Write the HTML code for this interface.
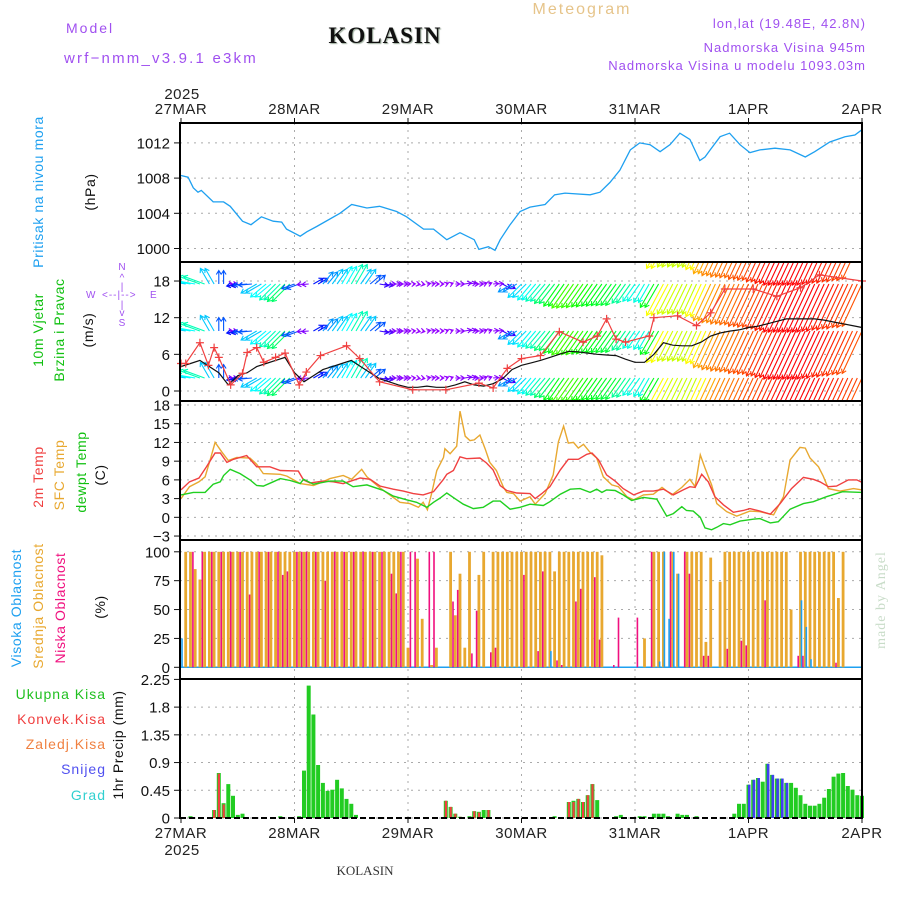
<!DOCTYPE html>
<html><head><meta charset="utf-8"><title>Meteogram KOLASIN</title>
<style>
html,body{margin:0;padding:0;background:#fff;}
svg{display:block;font-family:"Liberation Sans",sans-serif;}
.tk{font-size:15px;fill:#111;text-anchor:end;}
.dl{font-size:15px;fill:#222;text-anchor:middle;letter-spacing:0.5px;}
.lab{font-size:14px;text-anchor:middle;letter-spacing:0.6px;}
</style></head>
<body>
<svg id="chart" width="900" height="900" viewBox="0 0 900 900" xmlns="http://www.w3.org/2000/svg">
<defs><clipPath id="wclip"><rect x="181" y="263" width="681" height="137"/></clipPath></defs>
<text x="66" y="33" style="font-size:14px;fill:#a050f0;letter-spacing:2px">Model</text>
<text x="64" y="63" style="font-size:15px;fill:#a050f0;letter-spacing:2.2px">wrf−nmm_v3.9.1 e3km</text>
<text x="385" y="43" text-anchor="middle" style="font-family:'Liberation Serif',serif;font-weight:bold;font-size:23px;fill:#111;letter-spacing:1px;text-shadow:1px 1px 1px #9a9">KOLASIN</text>
<text x="582" y="14" text-anchor="middle" style="font-size:16px;fill:#e6c48a;letter-spacing:2px">Meteogram</text>
<text x="866" y="28" text-anchor="end" style="font-size:13px;fill:#a050f0;letter-spacing:1px">lon,lat (19.48E, 42.8N)</text>
<text x="866" y="52" text-anchor="end" style="font-size:13px;fill:#a050f0;letter-spacing:1px">Nadmorska Visina 945m</text>
<text x="866" y="70" text-anchor="end" style="font-size:13px;fill:#a050f0;letter-spacing:1px">Nadmorska Visina u modelu 1093.03m</text>
<text x="182" y="99" class="dl">2025</text>
<text x="182" y="855" class="dl">2025</text>
<text x="365" y="875" text-anchor="middle" style="font-family:'Liberation Serif',serif;font-size:13px;fill:#333">KOLASIN</text>
<text transform="translate(885,600) rotate(-90)" text-anchor="middle" style="font-family:'Liberation Serif',serif;font-size:14px;fill:#c8dcc8;letter-spacing:1px">made by Angel</text>

<text class="lab" transform="translate(43,192) rotate(-90)" style="fill:#1ea0f0">Pritisak na nivou mora</text>
<text class="lab" transform="translate(95,192) rotate(-90)" style="fill:#111">(hPa)</text>
<text class="lab" transform="translate(43,330) rotate(-90)" style="fill:#10c010">10m Vjetar</text>
<text class="lab" transform="translate(64,330) rotate(-90)" style="fill:#10c010">Brzina i Pravac</text>
<text class="lab" transform="translate(93,330) rotate(-90)" style="fill:#111">(m/s)</text>
<g style="font-size:10px;fill:#a050f0">
<text x="122" y="270" text-anchor="middle">N</text>
<text x="122" y="281" text-anchor="middle">^</text>
<text x="122" y="290" text-anchor="middle">|</text>
<text x="86" y="298">W</text>
<text x="102" y="298" style="letter-spacing:1px">&lt;--|--&gt;</text>
<text x="150" y="298">E</text>
<text x="122" y="308" text-anchor="middle">|</text>
<text x="122" y="316" text-anchor="middle">v</text>
<text x="122" y="326" text-anchor="middle">S</text>
</g>
<text class="lab" transform="translate(43,477) rotate(-90)" style="fill:#f04040">2m Temp</text>
<text class="lab" transform="translate(64,475) rotate(-90)" style="fill:#e8a830">SFC Temp</text>
<text class="lab" transform="translate(86,472) rotate(-90)" style="fill:#10c010">dewpt Temp</text>
<text class="lab" transform="translate(105,475) rotate(-90)" style="fill:#111">(C)</text>
<text class="lab" transform="translate(21,608) rotate(-90)" style="fill:#1ea0f0">Visoka Oblacnost</text>
<text class="lab" transform="translate(43,606) rotate(-90)" style="fill:#e8a830">Srednja Oblacnost</text>
<text class="lab" transform="translate(65,608) rotate(-90)" style="fill:#f0107f">Niska Oblacnost</text>
<text class="lab" transform="translate(105,607) rotate(-90)" style="fill:#111">(%)</text>
<g style="font-size:14px;text-anchor:end;letter-spacing:1px">
<text x="106" y="699" style="fill:#20c020">Ukupna Kisa</text>
<text x="106" y="724" style="fill:#f04040">Konvek.Kisa</text>
<text x="106" y="749" style="fill:#f08040">Zaledj.Kisa</text>
<text x="106" y="774" style="fill:#5050f0">Snijeg</text>
<text x="106" y="800" style="fill:#30d0d0">Grad</text>
</g>
<text class="lab" transform="translate(123,745) rotate(-90)" style="fill:#111">1hr Precip (mm)</text>
<g id="plot"></g>
</svg>
<script>
// ---------- data ----------
const dayLabels = ["27MAR","28MAR","29MAR","30MAR","31MAR","1APR","2APR"];
const presTicks = [1000,1004,1008,1012];
const windTicks = [0,6,12,18];
const tempTicks = [-3,0,3,6,9,12,15,18];
const cloudTicks = [0,25,50,75,100];
const precipTicks = ["0","0.45","0.9","1.35","1.8","2.25"];

const presH = [0,1.5,2.6,3.6,4.3,6.8,9,10.4,13,14.8,17,19.5,21.3,22.3,25.2,26.6,28.7,33.6,36.1,39.3,42,45.6,47.7,51.3,53.4,56.2,59,62,63,65,66.4,67.5,69.6,71.7,73.8,77,79,81.2,86.5,88.6,90.7,92.8,95,97,99.2,101.3,103.4,105.5,107.6,109.7,110.8,111.9,114,116,118.2,120.3,122.4,125.6,128.8,132,134,137.2,140.4,142.5,144];
const pres = [1008.3,1008.1,1006.9,1006.4,1006.6,1005.3,1005.3,1004.8,1003.1,1002.7,1003.6,1003.1,1003,1002.2,1001.4,1001.9,1002.5,1004,1005,1004.6,1004.8,1004.2,1003.6,1002.2,1002.2,1001,1001.8,1001,999.9,1000.2,999.8,1001,1002.7,1004.2,1004.7,1005,1006.1,1006.3,1006.1,1006.4,1007.5,1008.9,1011.2,1012,1011.8,1011,1011.8,1013.1,1012.4,1010,1010.4,1011.2,1012.7,1013.1,1011.8,1010.9,1011.2,1011.4,1011.2,1010.4,1011,1012.1,1012.7,1012.9,1013.5];

const windSpd = [4,4.5,5,4,3,1,2.5,3,4,4.5,5,5.5,3,1.5,2.5,3.5,4,4.5,5,4,3,2,1.5,1,0.6,0.6,0.8,0.6,0.6,1,1.5,1,0.8,1.2,2,3.5,4.2,4.6,5,5.5,6,6.5,6.4,6.2,6,5.9,5.8,5.2,4.7,4.7,6,7.9,7.5,7.4,7.4,8,9,9.5,9.8,10,10.4,10.6,11,11.4,11.8,11.8,11.8,11.8,11.6,11.3,11,10.7,10.4];
const windDir = [100,100,110,150,180,270,80,85,60,50,45,45,70,85,240,220,215,210,210,215,230,280,270,270,265,280,260,270,250,270,260,270,250,265,300,60,45,40,40,38,35,35,35,35,35,35,35,35,35,30,30,28,27,26,25,25,25,25,25,25,25,25,25,25,25,25,25,25,25,25,25,25,25];
const gustH = [0,1,4,5.8,7,8,10.5,13,14,16,17.5,20,22,25,26.5,29.5,35,37.8,42,49,56,63,66,69,72,76,80,85,88,90,92,94,99,100,105,109,112,115,121,126,131,135,144];
const gust = [4.5,4.5,7.9,4.2,7.1,5.5,1,2.9,6.3,7.1,4.7,5.5,6.2,1,3.1,5.8,7.4,5.3,1.5,0.2,0.2,1.3,0.5,3.7,5.3,5.8,9.7,8,9,11.8,8.5,8,9,12,12.3,10.7,12.8,16.7,16.7,15.5,16.9,19,18];

const t2H = [0,1.8,3.8,5.4,7.2,8.3,9.7,11.1,13.9,16,18.8,21,24.8,25.9,27.3,30.1,32.2,34.3,37.9,40,42.1,44.9,47,49.1,51.2,53.4,55.5,56.2,57.6,59,60.4,63.2,64.6,66,67.5,68.9,71,73.8,74.9,76.3,78,80.2,81.9,84,85.8,86.9,88.3,90,91.8,93.5,95.7,97.8,99.9,102,104.1,106.2,107.6,108.7,110.1,111.5,112.9,114.7,116.8,118.9,120.3,122.4,124.6,126.7,129.1,131.6,133.7,135.1,136.9,138.6,141.1,142.9,144];
const t2 = [4.4,5.7,6.3,8.1,10.3,10.3,8.8,9.3,9.9,8.1,8.1,7.5,7.4,6,5.5,5.8,5.7,5.4,6.3,6.1,5,4.5,4.2,3.8,3.6,4.1,6.1,6.9,7.5,9.7,9.4,9.5,8.7,7.6,5.1,4.3,3.9,3.8,3,3.8,4.9,7.6,9.3,9.3,10.1,10.3,9.2,6.8,5.8,4.6,3.6,4.2,4.2,4.5,3.6,4.4,4.9,4.8,6.9,5.7,3.3,2,0.8,1.1,1.4,1,0.5,2.2,4.6,6.4,6.1,5.7,4.9,5,6,6,5.6];
const sfcH = [0,1.8,3.8,5.1,6.1,7.2,8.6,10,11.8,14.6,16,17.4,21,22.4,23.8,25.2,28,29.4,31.5,34.3,36.1,38.2,39.3,42.1,46.3,48.4,50.2,51.2,52.1,53,54.1,55.5,55.8,56.9,58.3,59,60.1,61.1,62,63.2,64.3,65.3,66.7,68.2,68.9,70.3,71.7,73.8,74.9,77,78.7,79.8,80.9,81.9,83,84,85.1,86.5,87.9,89.3,91.1,92.5,94.3,95.7,97.8,99.9,101.7,103.8,105.9,107.6,108.7,109.8,110.8,112.2,113.3,115.4,117.5,120.3,122.4,125.3,127.4,128.8,130.9,132,133,134.8,135.8,136.9,139.4,142.2,144];
const sfc = [3,4.9,5.7,6.5,9,12,10.5,9.1,9.6,9.5,8.5,7,6.9,6.6,6,5.4,5.1,5.5,6.2,6.7,6.1,7.7,6.5,4.7,2.4,2.2,1.6,2.4,1.2,3.8,7.5,9.6,11,10.2,11.4,17,13,12.3,12.4,13.2,11,8.8,7.5,4.8,4,3.8,2.6,3.3,2.1,3.8,6.8,12.1,14.6,11.9,12,11.1,11.7,10.4,9.5,6.5,5.2,4.9,3.3,2.8,3.6,3.7,4.8,3.6,4.8,6.1,4.9,10,7.9,5.2,2.2,0.9,0.2,1,0.9,0.4,3.3,9.2,11.2,11.1,9.5,8.1,6.6,4.6,4.2,4.6,4.4];
const dewH = [0,2.6,5.1,6.8,8.3,9,10.4,12.5,14.6,16,17.4,19.5,21,23.1,25.2,25.9,28,31.5,34.3,36.4,39.3,42.8,44.9,47.7,49.8,52,53.4,54.8,56.2,58.3,59.7,61.8,63.9,66,67.5,69.6,71.7,73.8,76.6,78,80.2,82.3,84.4,86.5,87.9,89,90,91.8,93.5,95.3,97.8,100.6,102.7,104.1,105.9,106.9,108.3,109.8,110.8,112.2,113.3,114.7,116.1,118.2,121,122.4,124.6,126.3,128.8,131.6,133.7,136.5,139.9,144];
const dew = [3.6,4,4,5.3,5.7,6.7,7.7,7,6,5.1,5,5.7,6.2,5.9,5.4,6.1,5.3,5.8,5.8,4.9,5.2,4.3,3.4,2.8,2.4,1.6,2.4,3.1,3.9,2.8,2.1,1.4,1.6,2.6,2.6,1.3,1.6,2.1,1.9,2.5,3.7,4.5,4.6,4,4.5,4,4.4,4.3,3.6,2.7,3.2,2.9,0.2,0.6,1.7,1.1,1,0,-1.7,-2,-1.6,-1,-1.2,-0.6,-0.3,-0.2,-0.9,-0.7,1.3,2.2,2.5,3.3,4.1,4];

const cloudMid = [0,100,100,85,76,100,100,100,100,100,100,100,100,100,100,100,100,100,100,100,100,100,100,100,100,
100,100,100,100,100,100,100,100,100,100,100,100,100,100,100,100,100,100,100,100,100,100,100,
17,0,94,42,0,2,17,0,0,100,45,81,17,100,0,80,100,0,100,100,100,100,100,100,
100,100,100,100,100,100,100,83,100,100,100,100,100,100,100,100,100,97,
0,0,0,0,0,0,0,0,25,0,
100,100,100,0,100,81,0,100,100,100,100,22,95,0,74,
100,100,100,100,100,100,100,100,100,100,100,100,100,100,
50,0,100,100,100,100,100,100,100,100,60,100,0,0,0,0];
const lowH = [2,4,6,8,10,12,14,16,18,20,21,22,24,25,26,28,30,32,34,36,38,40,42,44,45,46,48,49,52,53,57,58,61,62,65,66,72,75,76,79,80,83,84,87,88,91,92,96,99,103,106,107,110,111,115,118,119,123,130,131,138];
const low = [100,100,100,100,100,100,63,100,100,100,80,83,100,100,100,100,75,100,100,100,100,100,100,81,64,100,100,100,100,100,57,67,12,49,13,17,80,14,83,6,2,57,68,78,24,2,43,43,100,100,100,81,10,10,16,23,19,58,10,10,4];
const highH = [0,78,101,102,103,104,105,131,132,133];
const high = [25,14,5,100,42,100,81,58,35,7];

const precipH = [2,7,8,9,10,11,12,13,21,25,26,27,28,29,30,31,32,33,34,35,36,37,56,57,58,59,61,62,63,64,65,79,82,83,84,85,86,87,88,92,93,97,98,100,101,102,103,105,106,107,109,117,118,119,120,121,122,123,124,125,126,127,128,129,130,131,132,133,134,135,136,137,138,139,140,141,142,143,144];
const precipTotal = [.03,.13,.73,.24,.55,.36,.05,.07,.03,.03,.77,2.15,1.68,.86,.57,.44,.46,.62,.48,.31,.23,.05,.28,.18,.07,.02,.03,.11,.1,.13,.13,.03,.26,.28,.31,.26,.37,.55,.29,.03,.05,.03,.03,.07,.07,.07,.03,.07,.05,.05,.03,.07,.23,.23,.54,.62,.65,.59,.88,.70,.64,.64,.57,.57,.49,.37,.23,.2,.2,.23,.33,.47,.67,.72,.73,.52,.46,.37,.36];
const convH = [7,8,9,56,57,58,59,62,63,65,82,83,84,85,86,87];
const conv = [.13,.72,.22,.28,.18,.07,.02,.11,.09,.13,.26,.26,.31,.26,.37,.55];
const snowH = [120,121,122,124,125,126,127,128];
const snow = [.54,.62,.65,.88,.70,.64,.64,.57];

// ---------- axes ----------
const X0 = 181, X1 = 862, XL = 180;
function xs(h){ return X0 + h*(X1-X0)/144; }
function yP(v){ return 248.5 - (v-1000)*8.8; }
function yW(v){ return 391 - v*6.11; }
function yT(v){ return 405 + (18-v)*6.24; }
function yC(v){ return 667.3 - v*1.155; }
function yR(v){ return 818 - v*61.6; }

const NS = "http://www.w3.org/2000/svg";
const plot = document.getElementById('plot');
function mk(tag, attrs, parent){
  const e = document.createElementNS(NS, tag);
  for (const k in attrs) e.setAttribute(k, attrs[k]);
  (parent||plot).appendChild(e);
  return e;
}
function line(x1,y1,x2,y2,st,parent){ return mk('line',{x1:x1,y1:y1,x2:x2,y2:y2,style:st},parent); }
function pathFrom(hs, vs, yf){
  let d='';
  for (let i=0;i<hs.length;i++) d += (i?'L':'M') + xs(hs[i]).toFixed(1) + ',' + yf(vs[i]).toFixed(1);
  return d;
}
const gridSt = 'stroke:#aaa;stroke-width:1;stroke-dasharray:2,5';

// gridlines
const grid = mk('g',{});


for (let d=1; d<6; d++){ const x = xs(d*24); line(x,123,x,818,gridSt,grid); }
presTicks.forEach(v=>line(XL,yP(v),X1,yP(v),gridSt,grid));
windTicks.forEach(v=>line(XL,yW(v),X1,yW(v),gridSt,grid));
tempTicks.forEach(v=>line(XL,yT(v),X1,yT(v),gridSt,grid));
cloudTicks.forEach(v=>line(XL,yC(v),X1,yC(v),gridSt,grid));
precipTicks.forEach(v=>line(XL,yR(+v),X1,yR(+v),gridSt,grid));

// tick labels
function ticks(vals, yf, name, lab){
  const g = mk('g',{});
  
  
  vals.forEach(v=>{
    const t = mk('text',{x:170,y:(yf(+v)+5.5).toFixed(1),class:'tk'},g);
    t.textContent = lab ? lab(v) : String(v);
    line(174,yf(+v),180,yf(+v),'stroke:#111;stroke-width:1',g);
  });
}
ticks(presTicks, yP, 'pressure-y-ticks');
ticks(windTicks, yW, 'wind-y-ticks');
ticks(tempTicks, yT, 'temp-y-ticks', v=> v<0 ? '−'+Math.abs(v) : String(v));
ticks(cloudTicks, yC, 'cloud-y-ticks');
ticks(precipTicks, yR, 'precip-y-ticks');

// day labels
const dg = mk('g',{});


dayLabels.forEach((d,i)=>{
  const x = xs(i*24);
  const a = mk('text',{x:x,y:114,class:'dl'},dg); a.textContent = d;
  const b = mk('text',{x:x,y:838,class:'dl'},dg); b.textContent = d;
  line(x,118,x,123,'stroke:#111',dg); line(x,818,x,823,'stroke:#111',dg);
});

// pressure
const pl = mk('path',{d:pathFrom(presH,pres,yP),style:'fill:none;stroke:#1ea0f0;stroke-width:1.3'});



// wind arrows
const hueStops = [[0,278],[1.5,270],[2.5,235],[3.5,205],[4.5,180],[5.5,145],[6.5,105],[7.5,70],[8.5,48],[9.5,32],[10.5,18],[11.5,4],[12.5,-12]];
function hueFor(s){
  if (s<=hueStops[0][0]) return hueStops[0][1];
  for (let i=1;i<hueStops.length;i++){
    if (s<=hueStops[i][0]){
      const a=hueStops[i-1], b=hueStops[i], t=(s-a[0])/(b[0]-a[0]);
      return a[1]+(b[1]-a[1])*t;
    }
  }
  return hueStops[hueStops.length-1][1];
}
const wg = mk('g',{'clip-path':'url(#wclip)'});


const bases = [237,284,331,378];
for (let i=0;i<windSpd.length;i++){
  const s = windSpd[i], dr = windDir[i]*Math.PI/180;
  const k = 4.5;
  const dx = -Math.sin(dr)*s*k, dy = Math.cos(dr)*s*k;
  let hue = hueFor(s); if (hue<0) hue += 360;
  const col = 'hsl('+hue.toFixed(0)+',100%,50%)';
  const L = Math.hypot(dx,dy)||1, ux = dx/L, uy = dy/L;
  const hrs = (i < windSpd.length-1) ? [i*2, i*2+1] : [i*2];
  hrs.forEach(h=>{
    bases.forEach(b=>{
      const x = xs(h), hx = x+dx, hy = b+dy;
      const a = mk('path',{d:'M'+x.toFixed(1)+','+b+'L'+hx.toFixed(1)+','+hy.toFixed(1)+
        'M'+(hx-ux*4-uy*2.5).toFixed(1)+','+(hy-uy*4+ux*2.5).toFixed(1)+'L'+hx.toFixed(1)+','+hy.toFixed(1)+
        'L'+(hx-ux*4+uy*2.5).toFixed(1)+','+(hy-uy*4-ux*2.5).toFixed(1),
        style:'fill:none;stroke:'+col+';stroke-width:1.1'},wg);
      
      
    });
  });
}
// wind speed line
const wsH = windSpd.map((_,i)=>i*2);
const wl = mk('path',{d:pathFrom(wsH,windSpd,yW),style:'fill:none;stroke:#111;stroke-width:1.2'});


// gust
const gl = mk('path',{d:pathFrom(gustH,gust,yW),style:'fill:none;stroke:#f04040;stroke-width:1.2'});


for (let i=0;i<gustH.length;i++){
  const x = xs(gustH[i]), y = yW(gust[i]);
  const m = mk('path',{d:'M'+(x-4)+','+y+'h8M'+x+','+(y-4)+'v8',style:'stroke:#f04040;stroke-width:1.2'});
  
  
}

// temperatures
[[sfcH,sfc,'#e8a830','sfc-temp-line'],[t2H,t2,'#f04040','temp-2m-line'],[dewH,dew,'#20d020','dewpoint-line']].forEach(s=>{
  const p = mk('path',{d:pathFrom(s[0],s[1],yT),style:'fill:none;stroke:'+s[2]+';stroke-width:1.4'});
  
  
});

// clouds
const hb = line(X0,yC(0),X1,yC(0),'stroke:#1ea0f0;stroke-width:1.5');


for (let h=0; h<cloudMid.length; h++){
  if (!cloudMid[h]) continue;
  const r = mk('rect',{x:(xs(h)-1.4).toFixed(1),y:yC(cloudMid[h]).toFixed(1),width:2.8,height:(yC(0)-yC(cloudMid[h])).toFixed(1),fill:'#e8a830'});
  
  
}
for (let i=0;i<lowH.length;i++){
  const r = mk('rect',{x:(xs(lowH[i])+1.6).toFixed(1),y:yC(low[i]).toFixed(1),width:1.6,height:(yC(0)-yC(low[i])).toFixed(1),fill:'#f0107f'});
  
  
}
for (let i=0;i<highH.length;i++){
  const r = mk('rect',{x:(xs(highH[i])+0.2).toFixed(1),y:yC(high[i]).toFixed(1),width:1.6,height:(yC(0)-yC(high[i])).toFixed(1),fill:'#1ea0f0'});
  
  
}

// precipitation
for (let i=0;i<precipH.length;i++){
  const r = mk('rect',{x:(xs(precipH[i])-2).toFixed(1),y:yR(precipTotal[i]).toFixed(1),width:4,height:(818-yR(precipTotal[i])).toFixed(1),fill:'#22cc22'});
  
  
}
for (let i=0;i<convH.length;i++){
  const r = mk('rect',{x:(xs(convH[i])-1).toFixed(1),y:yR(conv[i]).toFixed(1),width:2.2,height:(818-yR(conv[i])).toFixed(1),fill:'#f04040'});
  
  
}
for (let i=0;i<snowH.length;i++){
  const r = mk('rect',{x:(xs(snowH[i])-0.6).toFixed(1),y:yR(snow[i]).toFixed(1),width:2.6,height:(818-yR(snow[i])).toFixed(1),fill:'#4040f0'});
  
  
}

// panel frames
const fg = mk('g',{});


const bst = 'stroke:#000;stroke-width:2';
[123,262,401,540,679].forEach(y=>line(XL,y,X1,y,bst,fg));
line(XL,818,X1,818,'stroke:#000;stroke-width:2;stroke-dasharray:6,3',fg);
line(XL,679,X1,679,'stroke:#000;stroke-width:2;stroke-dasharray:6,3',fg);
line(XL,122,XL,819,bst,fg);
line(X1,122,X1,819,bst,fg);
</script>
</body></html>
